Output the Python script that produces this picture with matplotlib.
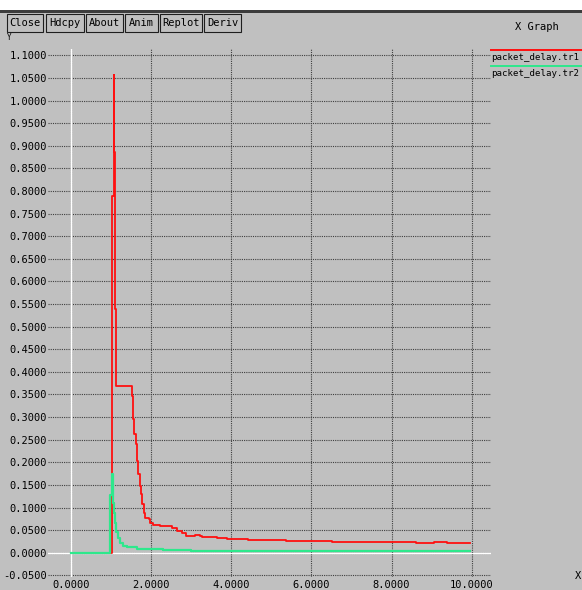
import numpy as np
import matplotlib
matplotlib.use("Agg")
import matplotlib.pyplot as plt
from matplotlib.patches import Rectangle
from matplotlib.lines import Line2D

# packet delay traces (time in s, delay in s), sampled as held values
tr1_time = [0.00, 1.02, 1.04, 1.07, 1.08, 1.10, 1.11, 1.13, 1.54, 1.56,
            1.59, 1.62, 1.65, 1.69, 1.72, 1.75, 1.79, 1.82, 1.85, 1.94,
            1.98, 2.04, 2.23, 2.52, 2.64, 2.77, 2.88, 3.10, 3.22, 3.27,
            3.66, 3.90, 4.41, 5.37, 6.52, 8.61, 9.07, 9.38, 9.96]
tr1_delay = [0.0, 0.265, 0.79, 1.056, 0.886, 0.786, 0.54, 0.369, 0.347, 0.295,
             0.262, 0.240, 0.203, 0.173, 0.147, 0.129, 0.107, 0.088, 0.077, 0.074,
             0.066, 0.061, 0.058, 0.055, 0.048, 0.043, 0.038, 0.040, 0.037, 0.034,
             0.032, 0.030, 0.0276, 0.025, 0.023, 0.021, 0.024, 0.021, 0.021]

tr2_time = [0.00, 0.98, 1.02, 1.05, 1.08, 1.11, 1.14, 1.18, 1.22, 1.30,
            1.40, 1.65, 2.31, 3.00, 9.96]
tr2_delay = [0.0, 0.128, 0.175, 0.109, 0.087, 0.065, 0.046, 0.032, 0.022, 0.015,
             0.012, 0.0074, 0.005, 0.0045, 0.0045]

series_names = ["packet_delay.tr1", "packet_delay.tr2"]
series_colors = ["#ff1010", "#2ee88c"]
buttons = ["Close", "Hdcpy", "About", "Anim", "Replot", "Deriv"]
button_edges = [(7, 43), (46, 84), (86, 123), (125, 158), (160, 202), (204, 241)]

x_ticks = np.arange(0, 10.01, 2.0)
y_ticks = np.arange(-0.05, 1.1001, 0.05)

BG = "#c0c0c0"
W, H = 582, 590
FONT = "DejaVu Sans Mono"
FS = 7.5


def fx(px):
    return px / W


def fy(py):
    return 1 - py / H


fig = plt.figure(figsize=(W / 100, H / 100), dpi=100, facecolor=BG)

# window strip at the top
fig.patches.append(Rectangle((0, fy(10)), 1, 10 / H, transform=fig.transFigure,
                             facecolor="white", edgecolor="none"))
fig.patches.append(Rectangle((0, fy(12.5)), 1, 2.5 / H, transform=fig.transFigure,
                             facecolor="#3c3c3c", edgecolor="none"))

# button row
for name, (x0, x1) in zip(buttons, button_edges):
    fig.patches.append(Rectangle((fx(x0), fy(32)), (x1 - x0) / W, 18 / H,
                                 transform=fig.transFigure, facecolor=BG,
                                 edgecolor="#1e1e1e", lw=0.8))
    fig.text(fx((x0 + x1) / 2), fy(23), name, ha="center", va="center",
             family=FONT, fontsize=FS, color="black")

# y unit label just under the buttons
fig.text(fx(9), fy(38), "Y", ha="center", va="center",
         family=FONT, fontsize=5.5, color="black")

fig.text(fx(537), fy(27), "X Graph", ha="center", va="center",
         family=FONT, fontsize=FS, color="black")

# legend on the right, narrow enough to fit the strip
for i, (name, col) in enumerate(zip(series_names, series_colors)):
    yl = 49.5 + 16.5 * i
    fig.lines.append(Line2D([fx(491), 1.0], [fy(yl), fy(yl)], transform=fig.transFigure,
                            color=col, lw=1.4))
    fig.text(fx(491), fy(yl + 7.5), name, ha="left", va="center",
             family=FONT, fontsize=6.6, color="black")

fig.text(fx(575), fy(576), "X", ha="left", va="center",
         family=FONT, fontsize=FS, color="black")

ax = fig.add_axes([fx(48), fy(577), (491 - 48) / W, (577 - 49) / H])
ax.set_facecolor(BG)
for s in ax.spines.values():
    s.set_visible(False)

ax.set_xlim(-0.566, 10.48)
ax.set_ylim(-0.0537, 1.114)
ax.set_xticks(x_ticks)
ax.set_yticks(y_ticks)
ax.set_xticklabels(["%.4f" % v for v in x_ticks], family=FONT, fontsize=FS)
ax.set_yticklabels(["%.4f" % v for v in y_ticks], family=FONT, fontsize=FS)
ax.tick_params(axis="both", length=0, colors="black")
ax.tick_params(axis="y", pad=0.8)
ax.tick_params(axis="x", pad=2.5)

ax.grid(True, color="#404040", linestyle=(0, (1, 1)), lw=0.8, zorder=1)
ax.set_axisbelow(True)

# zero axes
ax.axhline(0, color="white", lw=1.0, zorder=2)
ax.axvline(0, color="white", lw=1.0, zorder=2)

ax.plot(tr1_time, tr1_delay, drawstyle="steps-post", color=series_colors[0], lw=1.3, zorder=3)
ax.plot(tr2_time, tr2_delay, drawstyle="steps-post", color=series_colors[1], lw=1.6, zorder=4)

fig.savefig("out.png", dpi=100, facecolor=BG)
